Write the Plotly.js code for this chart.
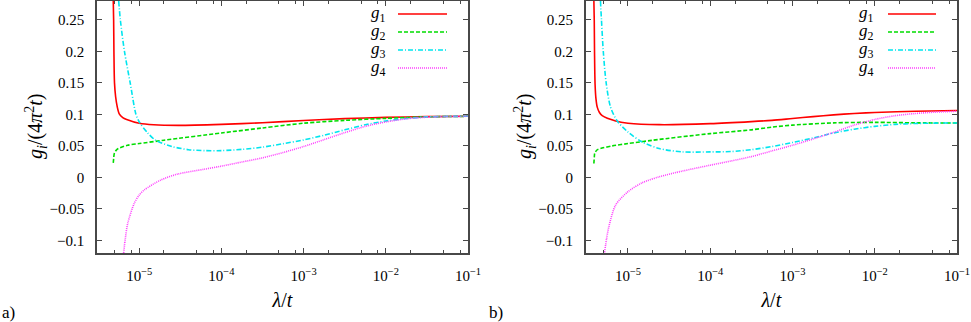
<!DOCTYPE html>
<html>
<head>
<meta charset="utf-8">
<script src="https://cdn.plot.ly/plotly-3.0.1.min.js"></script>
<style>
  html, body { margin: 0; padding: 0; background: #fff; }
  #chart { width: 971px; height: 322px; }
</style>
</head>
<body>
<div id="chart"></div>
<script>
/**
 * Colours / line styles (gnuplot-like)
 */
const red = "#ff0000";      // g1
const green = "#00dd00";    // g2
const cyan = "#00e5ee";     // g3
const magenta = "#ff40ff";  // g4
const axisColor = "#484848";
const serif = 'Liberation Serif';

/**
 * Axis ticks and labels
 */
const major_x = [1e-5, 1e-4, 1e-3, 1e-2, 1e-1];
const major_x_text = ['10<sup>−5</sup>', '10<sup>−4</sup>', '10<sup>−3</sup>', '10<sup>−2</sup>', '10<sup>−1</sup>'];
const minor_x = [5e-6, 8e-6, 2e-5, 5e-5, 8e-5, 2e-4, 5e-4, 8e-4, 2e-3, 5e-3, 8e-3, 2e-2, 5e-2, 8e-2];
const y_ticks = [-0.1, -0.05, 0, 0.05, 0.1, 0.15, 0.2, 0.25];
const y_tick_text = ['−0.1', '−0.05', '0', '0.05', '0.1', '0.15', '0.2', '0.25'];
const series_names = ['<i>g</i><sub>1</sub>', '<i>g</i><sub>2</sub>', '<i>g</i><sub>3</sub>', '<i>g</i><sub>4</sub>'];
const x_title = '<i>λ</i>/<i>t</i>';
const y_title = '<i>g<sub>i</sub></i>/(4<i>π</i><sup>2</sup><i>t</i>)';
const panel_labels = ['a)', 'b)'];

/**
 * Panel a)
 */
const a_g1_x = [4.83e-6, 4.88e-6, 4.92e-6, 5.0e-6, 5.16e-6, 5.4e-6, 5.71e-6, 6.3e-6, 7.03e-6, 1e-5, 1.5e-5, 3e-5, 1e-4, 3.16e-4, 1e-3, 3.16e-3, 1e-2, 3.16e-2, 0.1];
const a_g1_y = [0.28, 0.25, 0.2, 0.15, 0.128, 0.112, 0.101, 0.095, 0.092, 0.086, 0.0835, 0.0826, 0.0842, 0.0868, 0.0903, 0.0933, 0.0953, 0.0965, 0.097];

const a_g2_x = [4.83e-6, 4.9e-6, 4.97e-6, 5.2e-6, 5.56e-6, 7.2e-6, 1e-5, 2e-5, 1e-4, 3.16e-4, 1e-3, 3.16e-3, 1e-2, 3.16e-2, 0.1];
const a_g2_y = [0.023, 0.032, 0.038, 0.0425, 0.0458, 0.051, 0.0537, 0.059, 0.0705, 0.0785, 0.086, 0.0905, 0.0937, 0.096, 0.097];

const a_g3_x = [5.62e-6, 5.89e-6, 6.61e-6, 7.76e-6, 9.12e-6, 1e-5, 1.26e-5, 1.58e-5, 2.51e-5, 3.98e-5, 6.31e-5, 1e-4, 1.78e-4, 3.16e-4, 5.62e-4, 1e-3, 1.78e-3, 3.16e-3, 5.62e-3, 1e-2, 1.78e-2, 3.16e-2, 5.62e-2, 0.1];
const a_g3_y = [0.28, 0.25, 0.2, 0.15, 0.1, 0.088, 0.071, 0.059, 0.049, 0.044, 0.0425, 0.0425, 0.0445, 0.048, 0.0535, 0.0595, 0.067, 0.0755, 0.0835, 0.0895, 0.0935, 0.096, 0.0968, 0.097];

const a_g4_x = [6.46e-6, 6.8e-6, 7.24e-6, 8.7e-6, 1e-5, 1.15e-5, 1.82e-5, 2.92e-5, 6.2e-5, 1e-4, 1.78e-4, 3.16e-4, 5.62e-4, 1e-3, 1.78e-3, 3.16e-3, 5.62e-3, 1e-2, 1.78e-2, 3.16e-2, 5.62e-2, 0.1];
const a_g4_y = [-0.12, -0.095, -0.073, -0.041, -0.028, -0.02, -0.0043, 0.0052, 0.013, 0.0179, 0.0245, 0.031, 0.0395, 0.049, 0.06, 0.071, 0.081, 0.088, 0.093, 0.0955, 0.0966, 0.097];

/**
 * Panel b)
 */
const b_g1_x = [3.85e-6, 3.89e-6, 3.92e-6, 3.98e-6, 4.08e-6, 4.23e-6, 4.5e-6, 4.86e-6, 7.08e-6, 1e-5, 2.4e-5, 1e-4, 3.16e-4, 5.62e-4, 1e-3, 1.78e-3, 3.16e-3, 5.62e-3, 1e-2, 3.16e-2, 0.1];
const b_g1_y = [0.28, 0.25, 0.2, 0.148, 0.125, 0.1115, 0.103, 0.098, 0.0895, 0.086, 0.0837, 0.0853, 0.0885, 0.0905, 0.0935, 0.0965, 0.0993, 0.1015, 0.103, 0.105, 0.1063];

const b_g2_x = [3.85e-6, 3.9e-6, 3.94e-6, 4.2e-6, 4.63e-6, 6.46e-6, 1e-5, 2e-5, 1e-4, 3.16e-4, 5.75e-4, 1e-3, 3.16e-3, 1e-2, 3.16e-2, 0.1];
const b_g2_y = [0.022, 0.033, 0.038, 0.0435, 0.0458, 0.05, 0.0537, 0.059, 0.0695, 0.0755, 0.08, 0.083, 0.0865, 0.0874, 0.0866, 0.0863];

const b_g3_x = [4.63e-6, 4.76e-6, 5.01e-6, 5.43e-6, 6.14e-6, 7.41e-6, 1e-5, 1.49e-5, 2.4e-5, 4.57e-5, 1e-4, 1.78e-4, 3.16e-4, 5.62e-4, 1e-3, 1.78e-3, 3.16e-3, 5.62e-3, 1e-2, 1.78e-2, 3.16e-2, 5.62e-2, 0.1];
const b_g3_y = [0.28, 0.25, 0.2, 0.15, 0.1115, 0.0895, 0.072, 0.0562, 0.0458, 0.0405, 0.0405, 0.041, 0.044, 0.049, 0.0555, 0.0625, 0.0705, 0.0765, 0.081, 0.0842, 0.0856, 0.0862, 0.0863];

const b_g4_x = [5.19e-6, 5.5e-6, 5.86e-6, 7.08e-6, 1e-5, 1.49e-5, 2.4e-5, 4.57e-5, 1e-4, 1.78e-4, 3.16e-4, 5.62e-4, 1e-3, 1.78e-3, 3.16e-3, 5.62e-3, 1e-2, 1.78e-2, 3.16e-2, 5.62e-2, 0.1];
const b_g4_y = [-0.119, -0.097, -0.078, -0.0438, -0.0227, -0.0085, 0.001, 0.01, 0.0194, 0.026, 0.033, 0.042, 0.051, 0.061, 0.0715, 0.083, 0.092, 0.098, 0.1015, 0.1037, 0.105];

const styles = [
    {color: red, dash: 'solid'},
    {color: green, dash: '4px,2px'},
    {color: cyan, dash: '5px,2px,1px,2px'},
    {color: magenta, dash: '1px,1px'}
];

function curve(x, y, i, xa, ya) {
    return {
        x: x,
        y: y,
        xaxis: xa,
        yaxis: ya,
        mode: 'lines',
        name: series_names[i],
        showlegend: false,
        line: {color: styles[i].color, dash: styles[i].dash, width: 1.6, shape: 'spline', smoothing: 0.8},
        hoverinfo: 'skip'
    };
}

function xAxis(domain, anchor) {
    return {
        type: 'log',
        domain: domain,
        anchor: anchor,
        range: [-5.514, -1],
        showline: true,
        mirror: 'ticks',
        linecolor: axisColor,
        linewidth: 1.6,
        showgrid: false,
        zeroline: false,
        ticks: 'inside',
        ticklen: 5,
        tickwidth: 1,
        tickcolor: axisColor,
        tickmode: 'array',
        tickvals: major_x,
        ticktext: major_x_text,
        ticklabelstandoff: 8,
        tickfont: {family: serif, size: 15, color: '#000'},
        minor: {tickmode: 'array', tickvals: minor_x, ticks: 'inside', ticklen: 3, tickwidth: 1, tickcolor: axisColor, showgrid: false},
        title: {text: x_title, font: {family: serif, size: 20, color: '#000'}, standoff: 10}
    };
}

function yAxis(anchor) {
    return {
        anchor: anchor,
        range: [-0.12, 0.28],
        showline: true,
        mirror: 'ticks',
        linecolor: axisColor,
        linewidth: 1.6,
        showgrid: false,
        zeroline: false,
        ticks: 'inside',
        ticklen: 5,
        tickwidth: 1,
        tickcolor: axisColor,
        tickmode: 'array',
        tickvals: y_ticks,
        ticktext: y_tick_text,
        ticklabelstandoff: 8,
        tickfont: {family: serif, size: 15, color: '#000'}
    };
}

/**
 * Gnuplot-style key: label on the left, line sample on the right
 */
function keyItems(textX, lineX0, lineX1) {
    const rows = [14, 32, 50, 68];
    let ann = [];
    let shp = [];
    for (let i = 0; i < 4; i++) {
        const py = (253 - rows[i]) / 252;
        ann.push({
            xref: 'paper', yref: 'paper', x: textX / 971, y: py,
            xanchor: 'right', yanchor: 'middle', showarrow: false,
            text: series_names[i], font: {family: serif, size: 17, color: '#000'}
        });
        shp.push({
            type: 'line', xref: 'paper', yref: 'paper',
            x0: lineX0 / 971, x1: lineX1 / 971, y0: py, y1: py,
            line: {color: styles[i].color, dash: styles[i].dash, width: 1.6}
        });
    }
    return [ann, shp];
}

// panel captions and rotated y titles
function panelText(yTitleX, labelX, label) {
    return [
        {xref: 'paper', yref: 'paper', x: yTitleX / 971, y: (253 - 127) / 252, xanchor: 'center', yanchor: 'middle',
         textangle: -90, showarrow: false, text: y_title, font: {family: serif, size: 20, color: '#000'}},
        {xref: 'paper', yref: 'paper', x: labelX / 971, y: (253 - 312) / 252, xanchor: 'left', yanchor: 'middle',
         showarrow: false, text: label, font: {family: serif, size: 17, color: '#000'}}
    ];
}

const data = [
    curve(a_g1_x, a_g1_y, 0, 'x', 'y'),
    curve(a_g2_x, a_g2_y, 1, 'x', 'y'),
    curve(a_g3_x, a_g3_y, 2, 'x', 'y'),
    curve(a_g4_x, a_g4_y, 3, 'x', 'y'),
    curve(b_g1_x, b_g1_y, 0, 'x2', 'y2'),
    curve(b_g2_x, b_g2_y, 1, 'x2', 'y2'),
    curve(b_g3_x, b_g3_y, 2, 'x2', 'y2'),
    curve(b_g4_x, b_g4_y, 3, 'x2', 'y2')
];

const keyA = keyItems(388, 398, 447);
const keyB = keyItems(876, 888, 936);

const layout = {
    width: 971,
    height: 322,
    margin: {l: 0, r: 0, t: 1, b: 69},
    paper_bgcolor: '#fff',
    plot_bgcolor: '#fff',
    showlegend: false,
    font: {family: serif, size: 15, color: '#000'},
    xaxis: xAxis([97 / 971, 468 / 971], 'y'),
    yaxis: yAxis('x'),
    xaxis2: xAxis([585.7 / 971, 957 / 971], 'y2'),
    yaxis2: yAxis('x2'),
    annotations: keyA[0].concat(keyB[0])
        .concat(panelText(36, 0, panel_labels[0]))
        .concat(panelText(525, 487, panel_labels[1])),
    shapes: keyA[1].concat(keyB[1])
};

Plotly.newPlot('chart', data, layout, {displayModeBar: false});
</script>
</body>
</html>
